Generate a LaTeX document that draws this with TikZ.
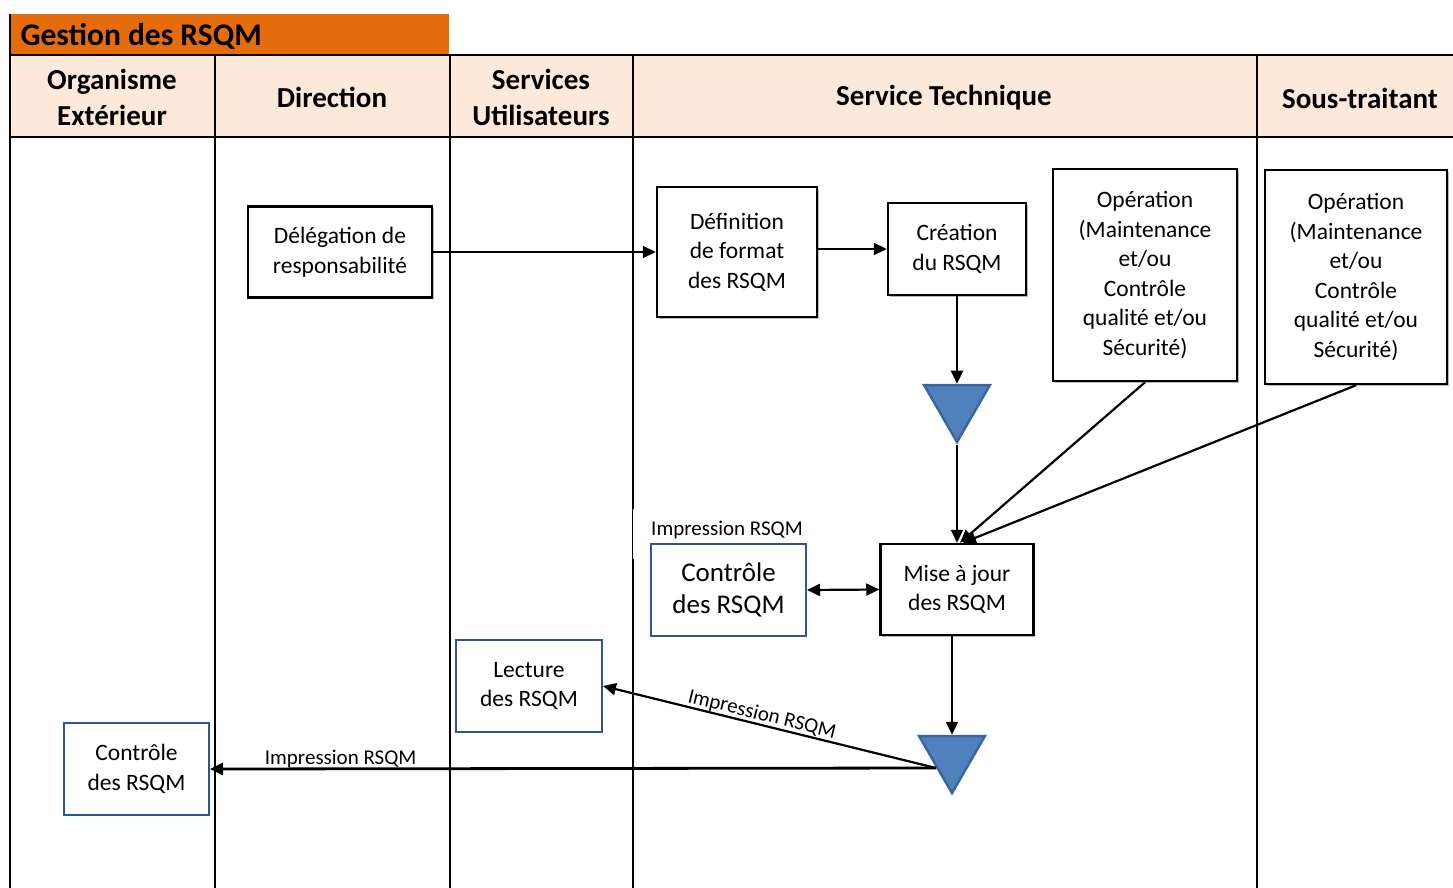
\documentclass[tikz,border=0pt]{standalone}
\usepackage{fontspec}
\setmainfont{Carlito}
\usetikzlibrary{arrows.meta,shapes.geometric,shadows,calc}
\definecolor{orangeT}{HTML}{E46C0A}
\definecolor{peach}{HTML}{FDE9D9}
\definecolor{triblue}{HTML}{4F81BD}
\definecolor{tribord}{HTML}{3A66A0}
\definecolor{boxblue}{HTML}{2E5597}
\begin{document}
\begin{tikzpicture}[x=1pt,y=-1pt,
  lane/.style={line width=2pt,draw=black},
  hdr/.style={font=\bfseries\fontsize{29}{36}\selectfont,align=center},
  box/.style={draw=black,line width=2.5pt,fill=white,align=center,inner sep=0pt,
    font=\fontsize{23.5}{29.5}\selectfont,
    drop shadow={shadow xshift=1.5pt,shadow yshift=-1.5pt,fill=gray!55,opacity=1}},
  bbox/.style={draw=boxblue,line width=2pt,fill=white,align=center,inner sep=0pt,
    font=\fontsize{23.5}{29.5}\selectfont},
  tri/.style={regular polygon,regular polygon sides=3,shape border rotate=180,
    minimum size=76pt,inner sep=0pt,fill=triblue,draw=tribord,line width=2.5pt},
  arr/.style={line width=2.2pt,-{Triangle[length=13pt,width=12pt]}},
  darr/.style={line width=2.2pt,{Triangle[length=13pt,width=12pt]}-{Triangle[length=13pt,width=12pt]}},
  lbl/.style={font=\fontsize{21}{24}\selectfont,inner sep=1pt}
]
\useasboundingbox (0,0) rectangle (1453,888);
% title
\fill[orangeT] (10,14) rectangle (449,54);
\node[anchor=west,font=\bfseries\fontsize{31.5}{36}\selectfont] (title) at (17,36) {Gestion des RSQM};
% header band
\fill[peach] (10,55) rectangle (1453,137);
\draw[lane] (10,55) -- (1453,55);
\draw[lane] (10,137) -- (1453,137);
\foreach \x in {10,215,450,633,1257}{\draw[lane] (\x,55) -- (\x,888);}
\draw[lane] (10,14) -- (10,55);
\node[hdr] (h1) at (112,97) {Organisme\\Extérieur};
\node[hdr] (h2) at (332,97) {Direction};
\node[hdr] (h3) at (541,97) {Services\\Utilisateurs};
\node[hdr] (h4) at (944,98) {Service Technique};
\node[hdr] (h5) at (1360,98) {Sous-traitant};
% label with white background over lane line
\node[lbl,fill=white,minimum width=190pt,minimum height=50pt,text depth=0pt] (imp1) at (728,534) {};
\node[lbl] (imp1t) at (727,530) {Impression RSQM};
% boxes
\node[box,minimum width=184pt,minimum height=91pt] (del) at (340,252) {Délégation de\\responsabilité};
\node[box,minimum width=160pt,minimum height=130pt] (def) at (737,252) {Définition\\de format\\des RSQM};
\node[box,minimum width=138pt,minimum height=92pt] (cre) at (957,249) {Création\\du RSQM};
\node[box,minimum width=184pt,minimum height=212pt] (op1) at (1145,275) {Opération\\(Maintenance\\et/ou\\Contrôle\\qualité et/ou\\Sécurité)};
\node[box,minimum width=182pt,minimum height=214pt] (op2) at (1356,277) {Opération\\(Maintenance\\et/ou\\Contrôle\\qualité et/ou\\Sécurité)};
\node[box,minimum width=153pt,minimum height=91pt] (maj) at (957,589.5) {Mise à jour\\des RSQM};
\node[bbox,minimum width=155pt,minimum height=92pt,font=\fontsize{27}{32}\selectfont] (ctl1) at (728.5,590) {Contrôle\\des RSQM};
\node[bbox,minimum width=146pt,minimum height=92pt] (lec) at (529,686) {Lecture\\des RSQM};
\node[bbox,minimum width=145pt,minimum height=92pt] (ctl2) at (136.5,769) {Contrôle\\des RSQM};
% triangles
\node[tri] (tri1) at (957,404) {};
\node[tri] (tri2) at (952,755) {};
\coordinate (t2out) at (936,768);
% connectors
\draw[arr] (del) -- (def);
\draw[arr] (def.east |- cre.west) -- (cre.west);
\draw[arr] (cre) -- (tri1);
\draw[arr] (tri1) -- (maj);
\draw[arr] (op1.south) -- ([xshift=3pt]maj.north);
\draw[arr] (op2.south) -- ([xshift=6pt]maj.north);
\draw[darr] (ctl1.east) -- (maj.west);
\draw[arr] (maj.south -| tri2) -- (tri2);
\draw[arr] (t2out) -- node[lbl,above,sloped,pos=0.53,inner sep=0pt] (imp2) {Impression RSQM} (lec.east);
\draw[arr,line width=2.8pt] (t2out) -- node[lbl,above,pos=0.82,inner sep=0pt] (imp3) {Impression RSQM} (ctl2.east);
\end{tikzpicture}
\end{document}
